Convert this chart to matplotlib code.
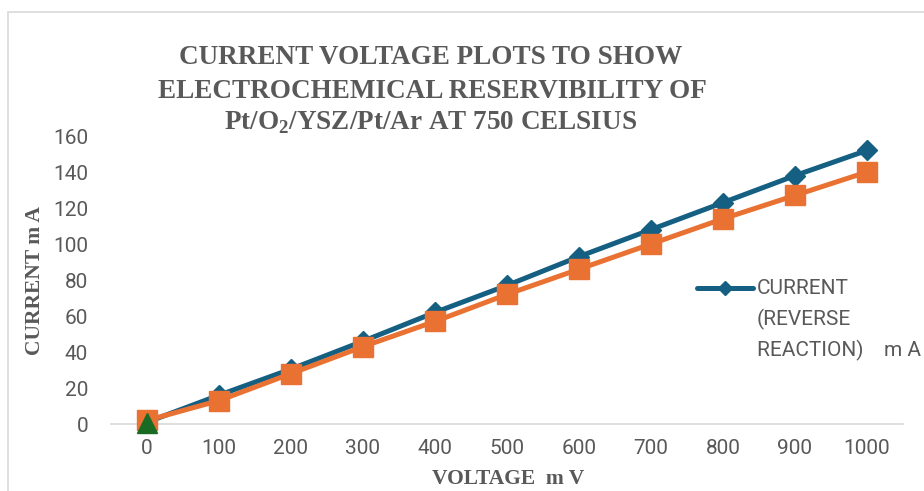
import matplotlib
matplotlib.use("Agg")
import matplotlib.pyplot as plt
from matplotlib.patches import Rectangle
from matplotlib.lines import Line2D

plt.rcParams["mathtext.fontset"] = "custom"
plt.rcParams["mathtext.bf"] = "Liberation Serif:bold"
plt.rcParams["mathtext.rm"] = "Liberation Serif:bold"

voltage = [0, 100, 200, 300, 400, 500, 600, 700, 800, 900, 1000]
current_reverse = [1, 16, 30.5, 46, 62, 77, 93, 108, 123, 138, 152]
current_forward = [2, 13, 28, 43, 57, 72, 86, 100, 114, 127, 140]
origin_x = [0]
origin_y = [0.5]
yticks = [0, 20, 40, 60, 80, 100, 120, 140, 160]
legend_lines = ["CURRENT", "(REVERSE", "REACTION)    m A"]

BLUE = "#156082"
ORANGE = "#E97132"
GREEN = "#196B24"
GRAY = "#595959"

fig = plt.figure(figsize=(9.24, 4.91), dpi=100)
fig.patch.set_facecolor("white")
fig.add_artist(Rectangle((8/924, -0.1), 1.2, (491-12)/491 + 0.1, transform=fig.transFigure,
                         fill=False, edgecolor="#d9d9d9", linewidth=1.2))

ax = fig.add_axes([111/924, 1-424/491, (903-111)/924, (424-136)/491])
ax.plot(voltage, current_reverse, color=BLUE, lw=3.6, marker="D", ms=10.5, zorder=3)
ax.plot(voltage, current_forward, color=ORANGE, lw=3.6, marker="s", ms=14, zorder=4)
ax.plot(origin_x, origin_y, color=GREEN, lw=0, marker="^", ms=14.5, zorder=5)

ax.set_xlim(-50, 1050)
ax.set_ylim(0, 160)
ax.set_xticks(voltage)
ax.set_yticks(yticks)
for s in ["top", "right", "left"]:
    ax.spines[s].set_visible(False)
ax.spines["bottom"].set_color("#d9d9d9")
ax.spines["bottom"].set_linewidth(1.2)
ax.tick_params(axis="both", length=0, labelsize=15, labelcolor=GRAY)
ax.tick_params(axis="x", pad=10.5)
ax.tick_params(axis="y", pad=16.5)
for lab in ax.get_xticklabels() + ax.get_yticklabels():
    lab.set_family("Roboto")
ax.patch.set_alpha(0)
for l in ax.lines:
    l.set_clip_on(False)

title_kw = dict(ha="center", va="center", family="Liberation Serif", weight="bold",
                size=19.5, color=GRAY)
fig.text(431/924, 1-57/491, "CURRENT VOLTAGE PLOTS TO SHOW", **title_kw)
fig.text(432/924, 1-91/491, "ELECTROCHEMICAL RESERVIBILITY OF", **title_kw)
fig.text(431/924, 1-123/491, r"Pt/O$_\mathbf{2}$/YSZ/Pt/Ar AT 750 CELSIUS", **title_kw)

fig.text(35/924, 1-281/491, "CURRENT m A", rotation=90, ha="center", va="center",
         family="Liberation Serif", weight="bold", size=15.5, color=GRAY)
fig.text(508/924, 1-479/491, "VOLTAGE  m V", ha="center", va="center",
         family="Liberation Serif", weight="bold", size=15.5, color=GRAY)

# legend entry (only the reverse-reaction series is listed)
fig.add_artist(Line2D([697/924, 753/924], [1-288/491, 1-288/491], transform=fig.transFigure,
                      color=BLUE, lw=3.6, solid_capstyle="round"))
fig.add_artist(Line2D([725/924], [1-288/491], transform=fig.transFigure,
                      color=BLUE, marker="D", ms=6.8, lw=0))
for i, txt in enumerate(legend_lines):
    fig.text(757/924, 1-(288 + 31*i)/491, txt, ha="left", va="center",
             family="Roboto", size=15, color=GRAY)

fig.savefig("out.png", dpi=100, facecolor="white")
